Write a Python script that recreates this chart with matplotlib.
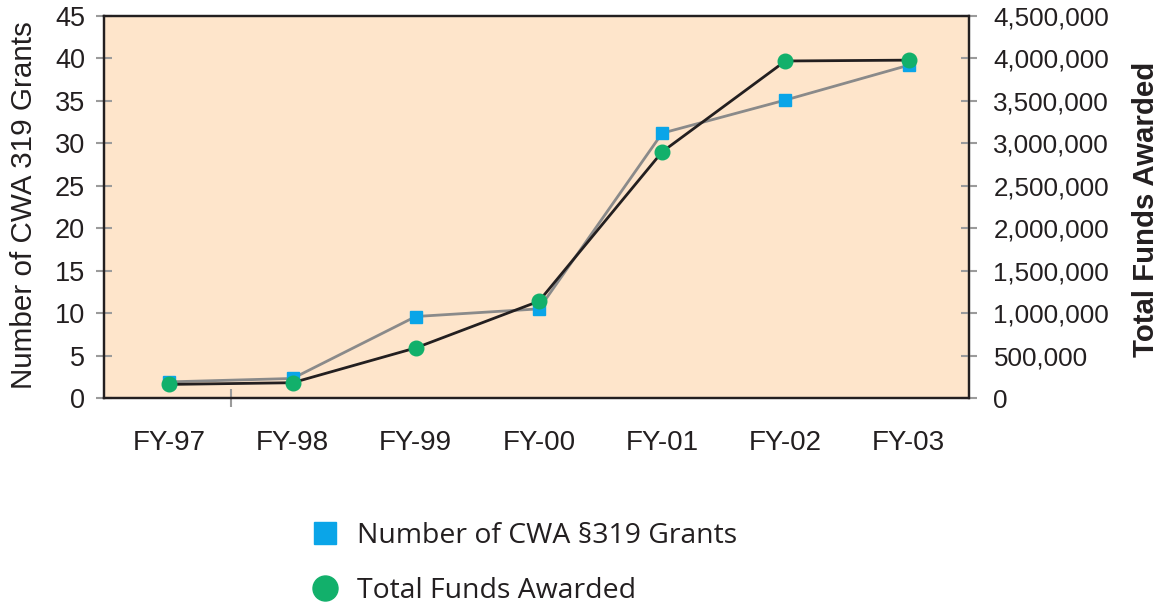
import matplotlib
matplotlib.use("Agg")
import matplotlib.pyplot as plt
from matplotlib.lines import Line2D
from matplotlib.ticker import FuncFormatter, MultipleLocator

years = ["FY-97", "FY-98", "FY-99", "FY-00", "FY-01", "FY-02", "FY-03"]
grants = [1.9, 2.3, 9.6, 10.5, 31.2, 35.1, 39.2]
funds = [160000, 180000, 590000, 1140000, 2900000, 3970000, 3980000]

BLUE = "#0aa5e8"
GREEN = "#12b06b"
GREY_LINE = "#8a8a8a"
INK = "#231f20"
TICK_GREY = "#9b9b9b"
PEACH = "#fee5cb"

W, H = 1161, 603
fig = plt.figure(figsize=(W / 100, H / 100), dpi=100)
plt.rcParams["font.family"] = ["Liberation Sans", "DejaVu Sans"]

ax = fig.add_axes([104 / W, (H - 398) / H, 865 / W, 382 / H])
ax.set_facecolor(PEACH)
x = list(range(len(years)))

ax.plot(x, grants, color=GREY_LINE, lw=2.0, marker="s", ms=8.8,
        mfc=BLUE, mec=BLUE, zorder=3)
ax.set_xlim(-0.53, 6.49)
ax.set_ylim(0, 45)
ax.yaxis.set_major_locator(MultipleLocator(5))
ax.set_xticks(x)
ax.set_xticklabels(years)
ax.set_xticks([0.5], minor=True)

ax2 = ax.twinx()
ax2.plot(x, funds, color=INK, lw=2.0, marker="o", ms=10.5,
         mfc=GREEN, mec=GREEN, zorder=4)
ax2.set_ylim(0, 4500000)
ax2.yaxis.set_major_locator(MultipleLocator(500000))
ax2.yaxis.set_major_formatter(FuncFormatter(lambda v, p: f"{int(v):,}"))

for a in (ax, ax2):
    for s in a.spines.values():
        s.set_color(INK)
        s.set_linewidth(1.6)

ax.tick_params(axis="y", direction="inout", length=12.2, width=1.5,
               color=TICK_GREY, pad=7.6, labelsize=19.5, labelcolor=INK)
ax.tick_params(axis="x", which="major", length=0, pad=23,
               labelsize=20, labelcolor=INK)
ax.tick_params(axis="x", which="minor", direction="inout", length=13,
               width=1.5, color=TICK_GREY)
ax2.tick_params(axis="y", direction="inout", length=12.2, width=1.5,
                color=TICK_GREY, pad=11.5, labelsize=18.7, labelcolor=INK)

fig.text(24 / W, 1 - 205 / H, "Number of CWA 319 Grants", rotation=90,
         ha="center", va="center", fontsize=21.3, color=INK)
fig.text(1146 / W, 1 - 209 / H, "Total Funds Awarded", rotation=90,
         ha="center", va="center", fontsize=21.2, fontweight="bold", color=INK)

handles = [
    Line2D([], [], linestyle="none", marker="s", ms=15.5, mfc=BLUE, mec=BLUE),
    Line2D([], [], linestyle="none", marker="o", ms=18, mfc=GREEN, mec=GREEN),
]
fig.legend(handles, ["Number of CWA §319 Grants", "Total Funds Awarded"],
           loc="upper left", bbox_to_anchor=(311 / W, 1 - 522 / H),
           frameon=False, borderpad=0, borderaxespad=0, handlelength=1.0,
           handletextpad=0.62, labelspacing=0.95,
           prop={"family": "Open Sans", "size": 20.4}, labelcolor=INK)

fig.savefig("out.png", dpi=100)
